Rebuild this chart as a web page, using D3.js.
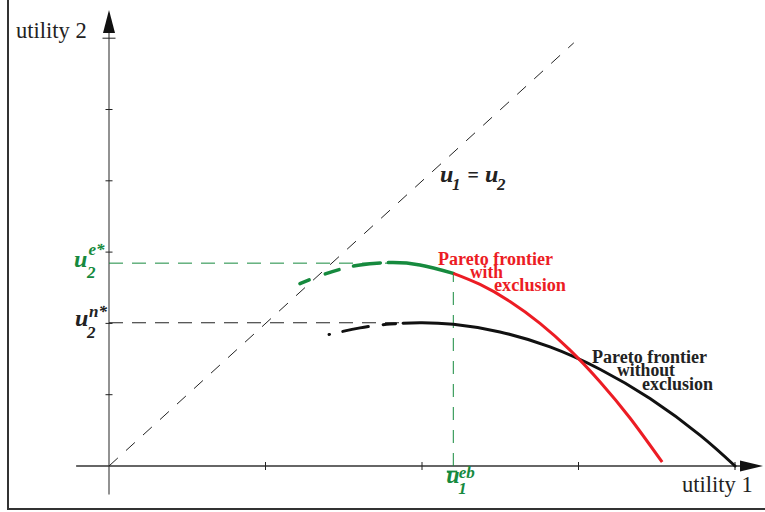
<!DOCTYPE html>
<html><head><meta charset="utf-8">
<script src="https://cdn.jsdelivr.net/npm/d3@7"></script>
<style>
html,body{margin:0;padding:0;background:#fff;}
svg{display:block;}
text{font-family:"Liberation Serif","Times New Roman",serif;}
</style></head>
<body><svg id="chart" width="765" height="512"></svg>
<script>
// ---- data (schematic units) ----
const xTicks = [0, 1, 2, 3, 4];
const yTicks = [0, 1, 2, 3, 4, 5, 6];
const diagonal = [[0, 0], [2.97, 5.935]];
// Pareto frontier with exclusion (green part, then red part)
const frontierExclGreen = [[1.220,2.557],[1.348,2.668],[1.476,2.758],[1.604,2.819],[1.796,2.853],[1.987,2.819],[2.200,2.702]];
const frontierExclRed = [[2.200,2.702],[2.371,2.546],[2.562,2.308],[2.754,2.001],[2.946,1.626],[3.137,1.183],[3.329,0.673],[3.534,0.056]];
// Pareto frontier without exclusion
const frontierNoExcl = [[1.406,1.844],[1.604,1.937],[1.796,1.991],[1.987,2.009],[2.200,1.987],[2.498,1.880],[2.818,1.670],[3.137,1.357],[3.457,0.945],[3.776,0.433],[4.000,0.000]];
const u2e = 2.845, u1eb = 2.20, u2eAtU1 = 2.702, u2eEnd = 1.79;
const u2n = 2.009, u2nEnd = 1.987;
const labelWith = ["Pareto frontier", "with", "exclusion"];
const labelWithout = ["Pareto frontier", "without", "exclusion"];

const svg = d3.select("#chart");
const x = d3.scaleLinear().domain([0, 4]).range([109, 735]);
const y = d3.scaleLinear().domain([0, 6]).range([466, 38.2]);
const line = d3.line().x(d => x(d[0])).y(d => y(d[1])).curve(d3.curveNatural);
const GREEN = "#168a3e", RED = "#ec1c24", BLK = "#111";
const SERIF = "Liberation Serif";

// frame (left and bottom)
svg.append("path").attr("d", "M8,0 V509 H765").attr("fill", "none").attr("stroke", "#333").attr("stroke-width", 2);

// axes
svg.append("line").attr("x1", x(0)).attr("x2", x(0)).attr("y1", y(-0.4)).attr("y2", 18)
  .attr("stroke", "#777").attr("stroke-width", 1.6);
svg.append("line").attr("x1", x(-0.21)).attr("x2", 745).attr("y1", y(0)).attr("y2", y(0))
  .attr("stroke", "#333").attr("stroke-width", 1.3);
// arrows
svg.append("path").attr("d", `M${x(0)},10 L${x(0)-6},33 L${x(0)+6},33 Z`).attr("fill", "#111");
svg.append("path").attr("d", `M763,${y(0)} L740,${y(0)-5.5} L740,${y(0)+5.5} Z`).attr("fill", "#111");

// ticks
svg.selectAll(".xt").data(xTicks.slice(1)).enter().append("line")
  .attr("x1", d => x(d)).attr("x2", d => x(d)).attr("y1", y(0) - 4).attr("y2", y(0) + 4)
  .attr("stroke", d => d === 4 ? "#777" : "#222").attr("stroke-width", d => d === 4 ? 1.8 : 1);
svg.selectAll(".yt").data(yTicks.slice(1)).enter().append("line")
  .attr("x1", d => x(0) - (d === 6 ? 6.5 : 3.5)).attr("x2", d => x(0) + (d === 6 ? 6.5 : 3.5))
  .attr("y1", d => y(d)).attr("y2", d => y(d))
  .attr("stroke", "#222").attr("stroke-width", 1);

// diagonal u1 = u2
svg.append("path").datum(diagonal).attr("d", d3.line().x(d => x(d[0])).y(d => y(d[1])))
  .attr("fill", "none").attr("stroke", "#222").attr("stroke-width", 1).attr("stroke-dasharray", "12,11");

// guide lines
svg.append("line").attr("x1", x(0)).attr("x2", x(u2eEnd)).attr("y1", y(u2e)).attr("y2", y(u2e))
  .attr("stroke", GREEN).attr("stroke-width", 1).attr("stroke-dasharray", "14,9");
svg.append("line").attr("x1", x(u1eb)).attr("x2", x(u1eb)).attr("y1", y(0)).attr("y2", y(u2eAtU1))
  .attr("stroke", GREEN).attr("stroke-width", 1).attr("stroke-dasharray", "13,10");
svg.append("line").attr("x1", x(0)).attr("x2", x(u2nEnd)).attr("y1", y(u2n)).attr("y2", y(u2n))
  .attr("stroke", "#222").attr("stroke-width", 1).attr("stroke-dasharray", "14,9");

// curves
svg.append("path").datum(frontierNoExcl).attr("d", line).attr("fill", "none")
  .attr("stroke", BLK).attr("stroke-width", 3).attr("stroke-linecap", "round")
  .attr("stroke-dasharray", "0.5,13.5,26,15,12.5,7.5,2000");
svg.append("path").datum(frontierExclGreen).attr("d", line).attr("fill", "none")
  .attr("stroke", GREEN).attr("stroke-width", 3.5).attr("stroke-linecap", "round")
  .attr("stroke-dasharray", "10,17,14.5,15,27,8,2000");
svg.append("path").datum(frontierExclRed).attr("d", line).attr("fill", "none")
  .attr("stroke", RED).attr("stroke-width", 3);

// axis titles
svg.append("text").attr("x", 16).attr("y", 38).attr("font-family", SERIF).attr("font-size", 22.5).attr("fill", "#222").text("utility 2");
svg.append("text").attr("x", 682).attr("y", 492).attr("font-family", SERIF).attr("font-size", 22.5).attr("fill", "#222").text("utility 1");

// math labels: one text element with absolutely positioned tspans
function mlabel(parts, color) {
  const t = svg.append("text").attr("fill", color).attr("font-family", SERIF)
    .attr("font-style", "italic").attr("font-weight", "bold");
  parts.forEach(p => {
    t.append("tspan").attr("x", p.x).attr("y", p.y).attr("font-size", p.s)
      .attr("font-style", p.ns ? "normal" : "italic").text(p.t);
  });
  return t;
}
// u2^{e*}
mlabel([
  {t: "u", x: x(0) - 35, y: y(u2e) + 3.5, s: 24},
  {t: "e*", x: x(0) - 20.5, y: y(u2e) - 8, s: 17},
  {t: "2", x: x(0) - 22, y: y(u2e) + 14.5, s: 17}
], GREEN);
// u2^{n*}
mlabel([
  {t: "u", x: x(0) - 34, y: y(u2n) + 3.5, s: 24},
  {t: "n*", x: x(0) - 20, y: y(u2n) - 5.5, s: 17},
  {t: "2", x: x(0) - 22, y: y(u2n) + 15, s: 17}
], "#222");
// u-bar_1^{eb}
mlabel([
  {t: "u", x: x(u1eb) - 7, y: 483, s: 24},
  {t: "eb", x: x(u1eb) + 5.5, y: 477.5, s: 17},
  {t: "1", x: x(u1eb) + 5, y: 494, s: 17}
], GREEN);
svg.append("line").attr("x1", x(u1eb) - 6.5).attr("x2", x(u1eb) + 4).attr("y1", 471.5).attr("y2", 471.5)
  .attr("stroke", GREEN).attr("stroke-width", 1.8);
// u1 = u2
mlabel([
  {t: "u", x: 440, y: 182, s: 24},
  {t: "1", x: 452, y: 190, s: 17},
  {t: "=", x: 467.5, y: 182, s: 20, ns: true},
  {t: "u", x: 485, y: 182, s: 24},
  {t: "2", x: 497, y: 190, s: 17}
], "#222");

// frontier labels: one text element with tspans per line
function block(lines, pos, color) {
  const t = svg.append("text").attr("fill", color).attr("font-family", SERIF)
    .attr("font-weight", "bold").attr("font-size", 18);
  lines.forEach((s, i) => t.append("tspan").attr("x", pos[i].x).attr("y", pos[i].y)
    .attr("textLength", pos[i].w).attr("lengthAdjust", "spacingAndGlyphs").text(s));
}
block(labelWith, [{x: 438, y: 265, w: 115}, {x: 470, y: 278, w: 33}, {x: 494, y: 291, w: 72}], RED);
block(labelWithout, [{x: 592, y: 363, w: 115}, {x: 617, y: 376, w: 58}, {x: 642, y: 390, w: 71}], "#222");
</script></body></html>
